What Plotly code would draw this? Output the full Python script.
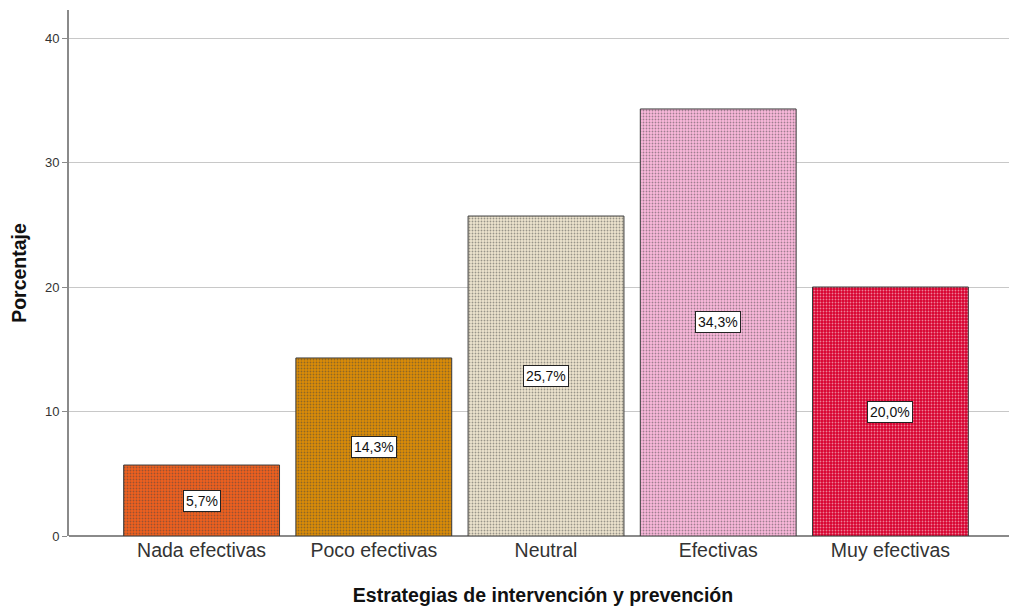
import plotly.graph_objects as go

categories = ["Nada efectivas", "Poco efectivas", "Neutral", "Efectivas", "Muy efectivas"]
values = [5.7, 14.3, 25.7, 34.3, 20.0]
labels = ["5,7%", "14,3%", "25,7%", "34,3%", "20,0%"]
bg_colors = ["#F0601E", "#DC8C06", "#EDE4CE", "#FBB9DC", "#D8002E"]
fg_colors = ["#6A2410", "#5E3C00", "#7A7466", "#7A4A64", "#5A0014"]

fig = go.Figure()
fig.add_trace(go.Bar(
    x=list(range(len(categories))),
    y=values,
    width=0.905,
    marker=dict(
        color=bg_colors,
        line=dict(color="#3a3a3a", width=1),
        pattern=dict(shape=".", size=3, solidity=0.3, fgcolor=fg_colors, fillmode="overlay"),
    ),
    hoverinfo="skip",
))

for i, (v, lab) in enumerate(zip(values, labels)):
    fig.add_annotation(
        x=i, y=v / 2, text=lab, showarrow=False,
        font=dict(family="Liberation Sans, Arial", size=14, color="#111"),
        bgcolor="white", bordercolor="#222", borderwidth=1, borderpad=2,
    )

fig.update_layout(
    width=1009, height=599,
    margin=dict(l=61, r=0, t=2, b=71),
    paper_bgcolor="white", plot_bgcolor="white",
    showlegend=False,
    font=dict(family="Liberation Sans, Arial", color="#222"),
    xaxis=dict(
        range=[-0.77, 4.735],
        tickvals=list(range(len(categories))),
        ticktext=categories,
        tickfont=dict(size=19.5, color="#333"),
        showgrid=False, zeroline=False, automargin=False,
        showline=False, ticks="",
        title=dict(text="<b>Estrategias de intervención y prevención</b>", font=dict(size=19.5, color="#111"), standoff=28),
    ),
    yaxis=dict(
        range=[0, 42.25],
        tickvals=[0, 10, 20, 30, 40],
        tickfont=dict(size=13, color="#333"),
        showgrid=True, gridcolor="#C8C8C8", gridwidth=1,
        zeroline=True, zerolinecolor="#8a8a8a", zerolinewidth=2,
        showline=True, linecolor="#8a8a8a", linewidth=2,
        ticks="outside", ticklen=5, tickcolor="#8a8a8a", automargin=False,
        title=dict(text="<b>Porcentaje</b>", font=dict(size=19.5, color="#111"), standoff=18),
    ),
)

fig.write_html("out.html")
